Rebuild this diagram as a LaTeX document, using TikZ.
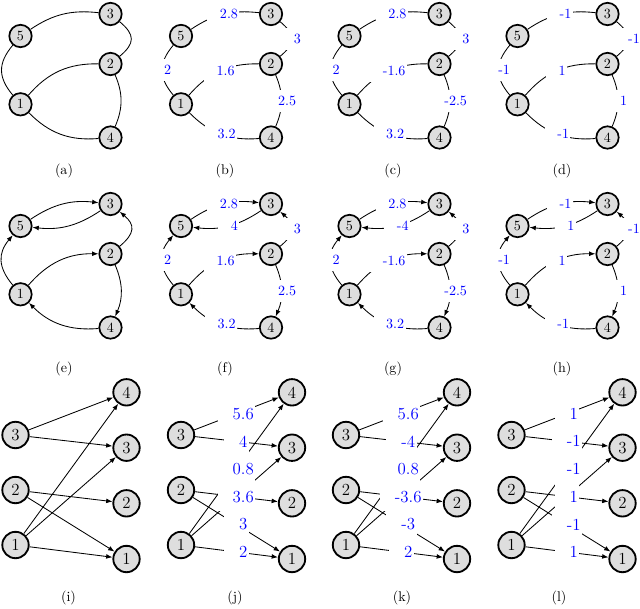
\documentclass[tikz,border=0pt]{standalone}
\usetikzlibrary{arrows.meta}
\newcommand{\wl}[1]{\hspace*{0.8em}#1}

\begin{document}
\begin{tikzpicture}[x=0.025cm,y=0.025cm,line width=0.6pt,>={Latex[length=4.5pt,width=3.4pt]},
  vtx/.style={circle,draw,line width=1.2pt,fill=black!13,minimum size=0.56cm,inner sep=0pt},
  vtxb/.style={vtx,line width=1.3pt,minimum size=0.66cm,font=\large},
  wt/.style={fill=white,text=blue,inner xsep=1pt,inner ysep=0pt,minimum height=0.54cm},
  wtb/.style={wt,minimum height=0.7cm,font=\large}]
\useasboundingbox (0,0) rectangle (640,-608);

% ---------- vertices of the five-node graphs ----------
\foreach \p/\x/\y in {a/20.5/14,b/181/14,c/349.5/14,d/517.5/14,e/20.5/204,f/181/204,g/349.5/204,h/517.5/204}{
  \node[vtx] (\p3) at (\x+90,-\y) {3};
  \node[vtx] (\p5) at (\x,-\y-22) {5};
  \node[vtx] (\p2) at (\x+90,-\y-50) {2};
  \node[vtx] (\p1) at (\x,-\y-90.3) {1};
  \node[vtx] (\p4) at (\x+90,-\y-123.5) {4};
}
% ---------- vertices of the bipartite graphs ----------
\foreach \p/\x in {i/15.5,j/181,k/346,l/511.5}{
  \node[vtxb] (L\p3) at (\x,-435) {3};
  \node[vtxb] (L\p2) at (\x,-490) {2};
  \node[vtxb] (L\p1) at (\x,-545) {1};
  \node[vtxb] (R\p4) at (\x+111,-392.3) {4};
  \node[vtxb] (R\p3) at (\x+111,-447.7) {3};
  \node[vtxb] (R\p2) at (\x+111,-503.3) {2};
  \node[vtxb] (R\p1) at (\x+111,-559) {1};
}

% ---------- (a) ----------
\draw (a5) to[bend left=20] (a3);
\draw (a3) to[out=-40,in=40,looseness=1.5] (a2);
\draw (a5) to[out=-130,in=130,looseness=1.2] (a1);
\draw (a1) to[bend left=25] (a2);
\draw (a2) to[bend left=23] (a4);
\draw (a1) to[bend right=25] (a4);
% ---------- (b) ----------
\draw (b5) to[bend left=20] node[wt] {\wl{2.8}} (b3);
\draw (b3) to[out=-40,in=40,looseness=1.5] node[wt] {\wl{3}} (b2);
\draw (b5) to[out=-130,in=130,looseness=1.2] node[wt] {\wl{2}} (b1);
\draw (b1) to[bend left=25] node[wt] {\wl{1.6}} (b2);
\draw (b2) to[bend left=23] node[wt] {\wl{2.5}} (b4);
\draw (b1) to[bend right=25] node[wt] {\wl{3.2}} (b4);
% ---------- (c) ----------
\draw (c5) to[bend left=20] node[wt] {\wl{2.8}} (c3);
\draw (c3) to[out=-40,in=40,looseness=1.5] node[wt] {\wl{3}} (c2);
\draw (c5) to[out=-130,in=130,looseness=1.2] node[wt] {\wl{2}} (c1);
\draw (c1) to[bend left=25] node[wt] {\wl{-1.6}} (c2);
\draw (c2) to[bend left=23] node[wt] {\wl{-2.5}} (c4);
\draw (c1) to[bend right=25] node[wt] {\wl{3.2}} (c4);
% ---------- (d) ----------
\draw (d5) to[bend left=20] node[wt] {\wl{-1}} (d3);
\draw (d3) to[out=-40,in=40,looseness=1.5] node[wt] {\wl{-1}} (d2);
\draw (d5) to[out=-130,in=130,looseness=1.2] node[wt] {\wl{-1}} (d1);
\draw (d1) to[bend left=25] node[wt] {\wl{1}} (d2);
\draw (d2) to[bend left=23] node[wt] {\wl{1}} (d4);
\draw (d1) to[bend right=25] node[wt] {\wl{-1}} (d4);

% ---------- (e) ----------
\draw[->] (e5) to[bend left=20] (e3);
\draw[->] (e3) to[bend left=20] (e5);
\draw[->] (e2) to[out=40,in=-40,looseness=1.5] (e3);
\draw[->] (e1) to[out=130,in=-130,looseness=1.2] (e5);
\draw[->] (e1) to[bend left=25] (e2);
\draw[->] (e2) to[bend left=23] (e4);
\draw[->] (e4) to[bend left=25] (e1);
% ---------- (f) ----------
\draw[->] (f5) to[bend left=20] node[wt] {\wl{2.8}} (f3);
\draw[->] (f3) to[bend left=20] node[wt] {\wl{4}} (f5);
\draw[->] (f2) to[out=40,in=-40,looseness=1.5] node[wt] {\wl{3}} (f3);
\draw[->] (f1) to[out=130,in=-130,looseness=1.2] node[wt] {\wl{2}} (f5);
\draw[->] (f1) to[bend left=25] node[wt] {\wl{1.6}} (f2);
\draw[->] (f2) to[bend left=23] node[wt] {\wl{2.5}} (f4);
\draw[->] (f4) to[bend left=25] node[wt] {\wl{3.2}} (f1);
% ---------- (g) ----------
\draw[->] (g5) to[bend left=20] node[wt] {\wl{2.8}} (g3);
\draw[->] (g3) to[bend left=20] node[wt] {\wl{-4}} (g5);
\draw[->] (g2) to[out=40,in=-40,looseness=1.5] node[wt] {\wl{3}} (g3);
\draw[->] (g1) to[out=130,in=-130,looseness=1.2] node[wt] {\wl{2}} (g5);
\draw[->] (g1) to[bend left=25] node[wt] {\wl{-1.6}} (g2);
\draw[->] (g2) to[bend left=23] node[wt] {\wl{-2.5}} (g4);
\draw[->] (g4) to[bend left=25] node[wt] {\wl{3.2}} (g1);
% ---------- (h) ----------
\draw[->] (h5) to[bend left=20] node[wt] {\wl{-1}} (h3);
\draw[->] (h3) to[bend left=20] node[wt] {\wl{1}} (h5);
\draw[->] (h2) to[out=40,in=-40,looseness=1.5] node[wt] {\wl{-1}} (h3);
\draw[->] (h1) to[out=130,in=-130,looseness=1.2] node[wt] {\wl{-1}} (h5);
\draw[->] (h1) to[bend left=25] node[wt] {\wl{1}} (h2);
\draw[->] (h2) to[bend left=23] node[wt] {\wl{1}} (h4);
\draw[->] (h4) to[bend left=25] node[wt] {\wl{-1}} (h1);

% ---------- (i) ----------
\draw[->] (Li3) -- (Ri4);
\draw[->] (Li3) -- (Ri3);
\draw[->] (Li2) -- (Ri2);
\draw[->] (Li2) -- (Ri1);
\draw[->] (Li1) -- (Ri4);
\draw[->] (Li1) -- (Ri3);
\draw[->] (Li1) -- (Ri1);
% ---------- (j) ----------
\draw[->] (Lj1) -- (Rj3);
\draw[->] (Lj1) -- node[wtb] {\wl{0.8}} (Rj4);
\draw[->] (Lj3) -- node[wtb] {\wl{5.6}} (Rj4);
\draw[->] (Lj3) -- node[wtb] {\wl{4}} (Rj3);
\draw[->] (Lj2) -- node[wtb] {\wl{3.6}} (Rj2);
\draw[->] (Lj2) -- node[wtb] {\wl{3}} (Rj1);
\draw[->] (Lj1) -- node[wtb] {\wl{2}} (Rj1);
% ---------- (k) ----------
\draw[->] (Lk1) -- (Rk3);
\draw[->] (Lk1) -- node[wtb] {\wl{0.8}} (Rk4);
\draw[->] (Lk3) -- node[wtb] {\wl{5.6}} (Rk4);
\draw[->] (Lk3) -- node[wtb] {\wl{-4}} (Rk3);
\draw[->] (Lk2) -- node[wtb] {\wl{-3.6}} (Rk2);
\draw[->] (Lk2) -- node[wtb] {\wl{-3}} (Rk1);
\draw[->] (Lk1) -- node[wtb] {\wl{2}} (Rk1);
% ---------- (l) ----------
\draw[->] (Ll1) -- (Rl3);
\draw[->] (Ll1) -- node[wtb] {\wl{-1}} (Rl4);
\draw[->] (Ll3) -- node[wtb] {\wl{1}} (Rl4);
\draw[->] (Ll3) -- node[wtb] {\wl{-1}} (Rl3);
\draw[->] (Ll2) -- node[wtb] {\wl{1}} (Rl2);
\draw[->] (Ll2) -- node[wtb] {\wl{-1}} (Rl1);
\draw[->] (Ll1) -- node[wtb] {\wl{1}} (Rl1);

% ---------- captions ----------
\node (capa) at (64,-171) {(a)};
\node (capb) at (225,-171) {(b)};
\node (capc) at (393,-171) {(c)};
\node (capd) at (562,-171) {(d)};
\node (cape) at (64,-369) {(e)};
\node (capf) at (225,-369) {(f)};
\node (capg) at (393,-369) {(g)};
\node (caph) at (562,-369) {(h)};
\node (capi) at (68.5,-597.5) {(i)};
\node (capj) at (235,-597.5) {(j)};
\node (capk) at (402,-597.5) {(k)};
\node (capl) at (559,-597.5) {(l)};
\end{tikzpicture}
\end{document}
